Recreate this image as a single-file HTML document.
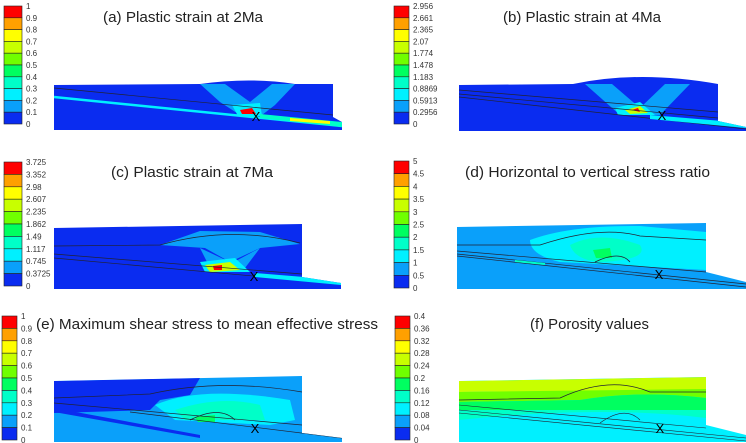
<!DOCTYPE html>
<html><head><meta charset="utf-8">
<style>
html,body{margin:0;padding:0;background:#fff;}
svg{display:block;}
.t{font-family:"Liberation Sans",sans-serif;font-size:15px;fill:#222;}
.l{font-family:"Liberation Sans",sans-serif;font-size:8px;fill:#333;}
</style></head>
<body>
<svg id="fig" width="746" height="443" viewBox="0 0 746 443" xmlns="http://www.w3.org/2000/svg"></svg>
<script>
const levelColors = ['#0a2cf0','#0aa0fa','#00f0ff','#00ffc8','#00ff60','#70ff00','#c8ff00','#ffff00','#ffa000','#ff0000'];
const labelsA = ['1','0.9','0.8','0.7','0.6','0.5','0.4','0.3','0.2','0.1','0'];
const labelsB = ['2.956','2.661','2.365','2.07','1.774','1.478','1.183','0.8869','0.5913','0.2956','0'];
const labelsC = ['3.725','3.352','2.98','2.607','2.235','1.862','1.49','1.117','0.745','0.3725','0'];
const labelsD = ['5','4.5','4','3.5','3','2.5','2','1.5','1','0.5','0'];
const labelsE = ['1','0.9','0.8','0.7','0.6','0.5','0.4','0.3','0.2','0.1','0'];
const labelsF = ['0.4','0.36','0.32','0.28','0.24','0.2','0.16','0.12','0.08','0.04','0'];
const titles = ['(a) Plastic strain at 2Ma','(b) Plastic strain at 4Ma','(c) Plastic strain at 7Ma','(d) Horizontal to vertical stress ratio','(e) Maximum shear stress to mean effective stress','(f) Porosity values'];

const NS='http://www.w3.org/2000/svg';
const svg=document.getElementById('fig');
function mk(tag,attrs,parent){const e=document.createElementNS(NS,tag);for(const k in attrs)e.setAttribute(k,attrs[k]);(parent||svg).appendChild(e);return e;}

function colorbar(id,x,y0,y1,w,labels){
  const g=mk('g',{});
  
  
  const n=labels.length-1, h=(y1-y0)/n;
  for(let i=0;i<n;i++){
    const r=mk('rect',{x:x,y:y0+i*h,width:w,height:h,fill:levelColors[n-1-i],stroke:'#222','stroke-width':0.6},g);
    
    
  }
  labels.forEach((s,i)=>{
    const t=mk('text',{x:x+w+4,y:y0+i*h+3,class:'l'},g);t.textContent=s;
    
    
  });
}
function title(s,x0,x1,y){
  const t=mk('text',{x:x0,y:y,class:'t',textLength:x1-x0,lengthAdjust:'spacingAndGlyphs'});t.textContent=s;
  
  
}
function model(id,p,base){
  const g=mk('g',{});
  
  
  const cp=id+'clip';
  const d=`M${p.x0},${p.tl} ${p.top||''} L${p.x1},${p.tr} L${p.x1},${p.yr} L${p.xt},${p.yt} L${p.xt},${p.yb} L${p.x0},${p.yb}Z`;
  const c=mk('clipPath',{id:cp},g);mk('path',{d:d},c);
  mk('path',{d:d,fill:base},g);
  const inner=mk('g',{'clip-path':`url(#${cp})`},g);
  g.outline=d;
  return inner;
}
function X(g,x,y){const t=mk('text',{x:x,y:y,'text-anchor':'middle','font-family':'Liberation Sans, sans-serif','font-size':'13px',fill:'#000'},g);t.textContent='X';
  }
function ln(g,d,c,w){mk('path',{d:d,fill:'none',stroke:c||'#333','stroke-width':w||0.8},g);}
function blob(g,d,c){mk('path',{d:d,fill:c},g);}

colorbar('a',4,6,124,18,labelsA);
colorbar('b',394,6,124,15,labelsB);
colorbar('c',4,162,286,18,labelsC);
colorbar('d',394,161,288,15,labelsD);
colorbar('e',2,316,440,15,labelsE);
colorbar('f',395,316,440,15,labelsF);

title(titles[0],103,263,22);
title(titles[1],503,661,22);
title(titles[2],111,273,177);
title(titles[3],465,710,177);
title(titles[4],36,378,329);
title(titles[5],530,649,329);

// panel a
let g=model('a',{x0:54,x1:333,xt:342,tl:85,tr:84,top:'L200,84 Q250,77 295,84',yr:117,yt:122,yb:130},levelColors[0]);
blob(g,'M200,84 L225,84 L250,102 L272,84 L295,84 L275,105 L262,115 L240,115 L220,102Z',levelColors[1]);
blob(g,'M232,105 L260,103 L262,116 L238,116Z',levelColors[2]);
blob(g,'M240,110 L252,108 L256,114 L242,114Z',levelColors[9]);
ln(g,'M54,97 L342,126',levelColors[2],2.5);
blob(g,'M260,114 L342,122 L342,127 L260,118Z',levelColors[3]);
blob(g,'M290,118 L330,121 L330,124 L290,121Z',levelColors[7]);
ln(g,'M54,88 L333,115','#223',0.7);
X(g,256,121);

// panel b
g=model('b',{x0:459,x1:718,xt:746,tl:85,tr:84,top:'L573,84 Q640,70 718,84',yr:121,yt:127,yb:131},levelColors[0]);
blob(g,'M585,84 L612,84 L640,108 L665,84 L690,84 L660,115 L620,115Z',levelColors[1]);
blob(g,'M615,108 L640,102 L655,115 L618,115Z',levelColors[2]);
blob(g,'M625,110 L640,106 L648,113 L630,114Z',levelColors[6]);
blob(g,'M632,110 L638,108 L640,112Z',levelColors[9]);
ln(g,'M459,90 L718,112','#223',0.7);ln(g,'M459,94 L718,118','#223',0.7);ln(g,'M459,97 L746,129','#223',0.7);
blob(g,'M650,115 L746,123 L746,128 L650,119Z',levelColors[2]);
X(g,662,120);

// panel c
g=model('c',{x0:54,x1:302,xt:341,tl:228,tr:224,yr:277,yt:283,yb:289},levelColors[0]);
blob(g,'M160,245 L200,231 L260,232 L300,244 L260,248 L230,262 L205,248Z',levelColors[1]);
blob(g,'M200,248 L232,263 L260,248 L245,268 L210,268Z',levelColors[1]);
blob(g,'M200,262 L235,258 L250,272 L205,272Z',levelColors[2]);
blob(g,'M205,265 L230,262 L240,270 L210,272Z',levelColors[6]);
blob(g,'M213,266 L222,265 L222,270 L214,270Z',levelColors[9]);
ln(g,'M54,246 L160,245 Q230,225 300,243','#223',0.7);
ln(g,'M54,254 L302,274','#223',0.7);ln(g,'M54,258 L341,284','#223',0.7);
blob(g,'M255,273 L341,280 L341,285 L255,277Z',levelColors[2]);
X(g,254,281);

// panel d
g=model('d',{x0:457,x1:706,xt:746,tl:227,tr:223,yr:272,yt:282,yb:289},levelColors[1]);
blob(g,'M530,240 Q570,225 640,226 L706,232 L706,270 L560,262 Q530,255 530,240Z',levelColors[2]);
blob(g,'M570,245 Q600,230 640,245 Q650,260 600,262 Q575,260 570,245Z',levelColors[3]);
blob(g,'M593,250 L610,248 L612,258 L596,258Z',levelColors[4]);
ln(g,'M457,245 L540,245 Q600,225 640,236 L706,240','#223',0.7);
ln(g,'M457,251 L706,272','#223',0.7);ln(g,'M457,254 L746,284','#223',0.7);ln(g,'M457,256 L746,287','#223',0.7);
ln(g,'M595,262 Q620,250 630,262','#223',0.7);
blob(g,'M515,260 L545,263 L545,265 L515,262Z',levelColors[3]);
X(g,659,279);

// panel e
g=model('e',{x0:54,x1:302,xt:342,tl:381,tr:376,yr:433,yt:438,yb:442},levelColors[1]);
blob(g,'M54,381 L200,378 L190,395 L160,400 L150,410 L54,413Z',levelColors[0]);
blob(g,'M54,408 L200,435 L200,438 L54,412Z',levelColors[0]);
blob(g,'M155,405 Q200,385 290,400 L295,420 L270,425 L175,420Z',levelColors[2]);
blob(g,'M175,410 Q220,395 260,405 L265,420 L185,420Z',levelColors[3]);
blob(g,'M195,417 L215,415 L215,422 L198,422Z',levelColors[4]);
ln(g,'M54,398 L150,394 Q220,378 302,392','#223',0.7);
ln(g,'M54,403 L302,425','#223',0.7);ln(g,'M130,412 L342,438','#223',0.7);
ln(g,'M190,420 Q220,405 235,420','#223',0.7);
X(g,255,433);

// panel f
g=model('f',{x0:459,x1:706,xt:746,tl:381,tr:377,yr:425,yt:435,yb:442},levelColors[2]);
blob(g,'M459,381 L706,377 L706,390 L459,392Z',levelColors[6]);
blob(g,'M459,392 L706,389 L706,398 Q640,390 580,400 L459,402Z',levelColors[5]);
blob(g,'M459,402 L580,400 Q640,390 706,398 L706,410 L459,410Z',levelColors[4]);
blob(g,'M459,410 L706,410 L706,418 Q600,405 459,420Z',levelColors[3]);
ln(g,'M459,400 L560,398 Q610,375 650,392 L706,392','#223',0.7);
ln(g,'M459,405 L706,428','#223',0.6);ln(g,'M459,410 L746,438','#223',0.6);ln(g,'M459,413 L746,441','#223',0.6);
ln(g,'M600,423 Q625,405 640,420','#223',0.6);
X(g,660,433);
</script>
</body></html>
